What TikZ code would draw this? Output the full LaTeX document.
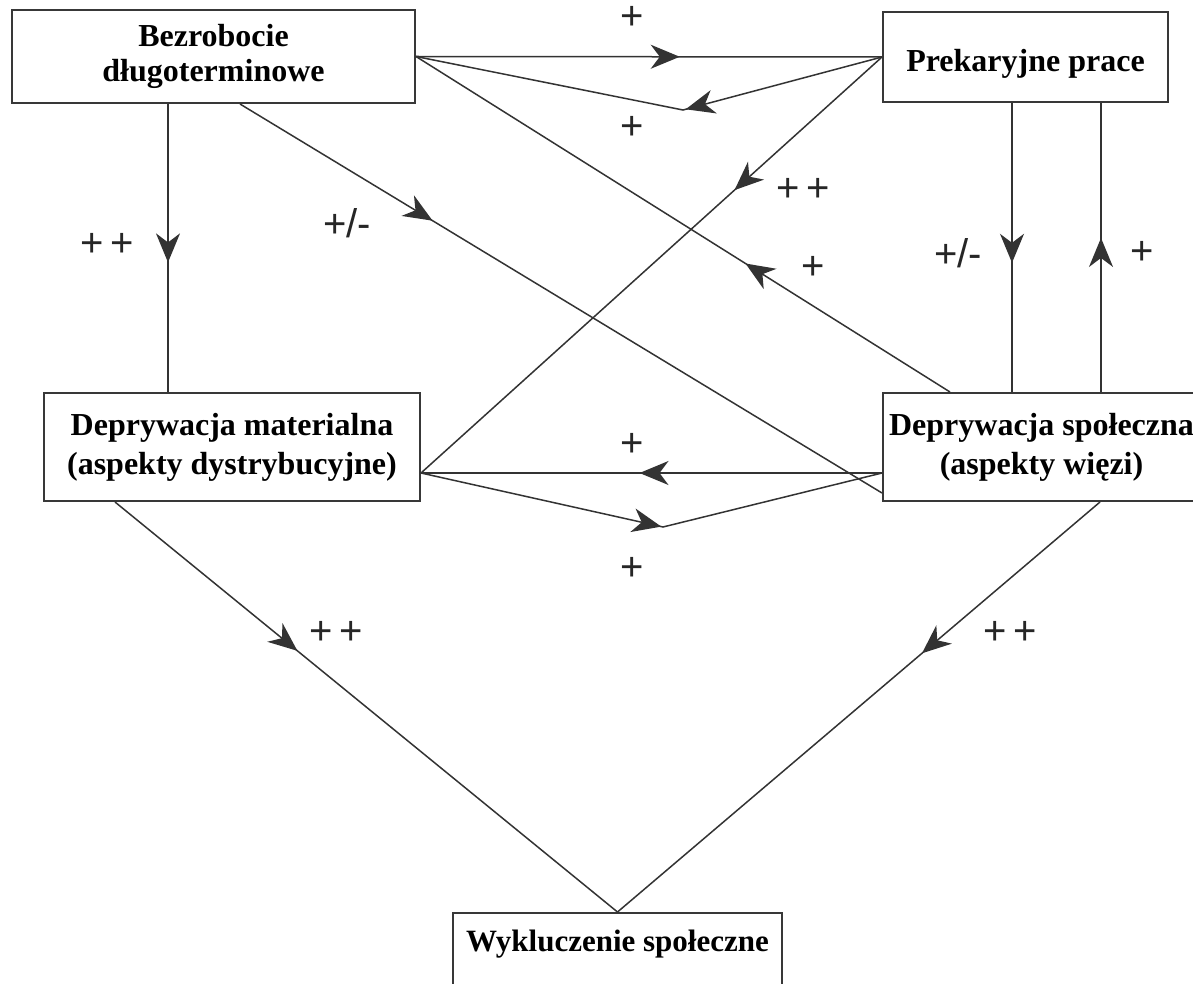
\documentclass[tikz,border=0pt]{standalone}
\usepackage{fontspec}
\setmainfont{Liberation Serif}
\newfontfamily\plusfont{Liberation Sans}
\usetikzlibrary{arrows.meta,decorations.markings,positioning}

\begin{document}
\begin{tikzpicture}[x=0.5pt,y=-0.5pt,
	factor/.style={draw=black!78,line width=1pt,inner sep=0pt,align=center,font=\fontsize{16}{19.5}\selectfont\bfseries},
	conn/.style={draw=black!80,line width=0.75pt},
	midtip/.style={postaction={decorate,decoration={markings,mark=at position #1 with {\arrow{Stealth[length=14.5pt,width=12pt,inset=4.5pt]}}}}},
	pm/.style={font=\plusfont\fontsize{20}{20}\selectfont,text=black!85,inner sep=0pt}]
			\clip (0,0) rectangle (1193,984);
			\node[factor,minimum width=201.5pt,minimum height=46.5pt,font=\fontsize{16}{17.5}\selectfont\bfseries] (bez) at (213.5,56.5) {Bezrobocie\\długoterminowe};
			\node[factor,minimum width=142.5pt,minimum height=45pt,text height=18pt,text depth=3pt] (prek) at (1025.5,57) {Prekaryjne prace};
			\node[factor,minimum width=188pt,minimum height=54pt] (mat) at (232,447) {Deprywacja materialna\\(aspekty dystrybucyjne)};
			\node[factor,minimum width=158.5pt,minimum height=54pt] (spol) at (1041.5,447) {Deprywacja społeczna\\(aspekty więzi)};
			\node[factor,anchor=north,minimum width=164.5pt,text height=19pt,text depth=26pt,font=\fontsize{15.5}{19}\selectfont\bfseries] (wyk) at (617.5,912) {Wykluczenie społeczne};
			\coordinate (vtop) at (683,110);
			\coordinate (vmid) at (663,527);
			\draw[conn,midtip=0.566] (bez.east) -- (prek.west);
			\draw[conn,midtip=0.425] (prek.west) -- (vtop) -- (bez.east);
			\draw[conn,midtip=0.55] (168,0 |- bez.south) -- (168,0 |- mat.north);
			\draw[conn,midtip=0.30] (240,0 |- bez.south) -- (spol.west |- 0,493);
			\draw[conn,midtip=0.383] (950,0 |- spol.north) -- (bez.east);
			\draw[conn,midtip=0.32] (prek.west) -- (mat.east |- 0,473);
			\draw[conn,midtip=0.553] (1012,0 |- prek.south) -- (1012,0 |- spol.north);
			\draw[conn,midtip=0.533] (1101,0 |- spol.north) -- (1101,0 |- prek.south);
			\draw[conn,midtip=0.526] (spol.west |- 0,473) -- (mat.east |- 0,473);
			\draw[conn,midtip=0.52] (mat.east |- 0,473) -- (vmid) -- (spol.west |- 0,473);
			\draw[conn,midtip=0.363] (115,0 |- mat.south) -- (wyk.north);
			\draw[conn,midtip=0.369] (1100,0 |- spol.south) -- (wyk.north);
			\node[pm] (ptop) at (632,18) {+};
			\node[pm] (pvtop) at (632,128) {+};
			\node[pm] (pbm) at (107,245) {+\kern3pt+};
			\node[pm] (pbs) at (347,223) {+/-};
			\node[pm] (ppm) at (803,190) {+\kern3pt+};
			\node[pm] (psb) at (813,268) {+};
			\node[pm] (pps) at (958,253) {+/-};
			\node[pm] (psp) at (1142,253) {+};
			\node[pm] (pmh) at (632,445) {+};
			\node[pm] (pmv) at (632,569) {+};
			\node[pm] (pmw) at (336,633) {+\kern3pt+};
			\node[pm] (psw) at (1010,633) {+\kern3pt+};
		\end{tikzpicture}
\end{document}
